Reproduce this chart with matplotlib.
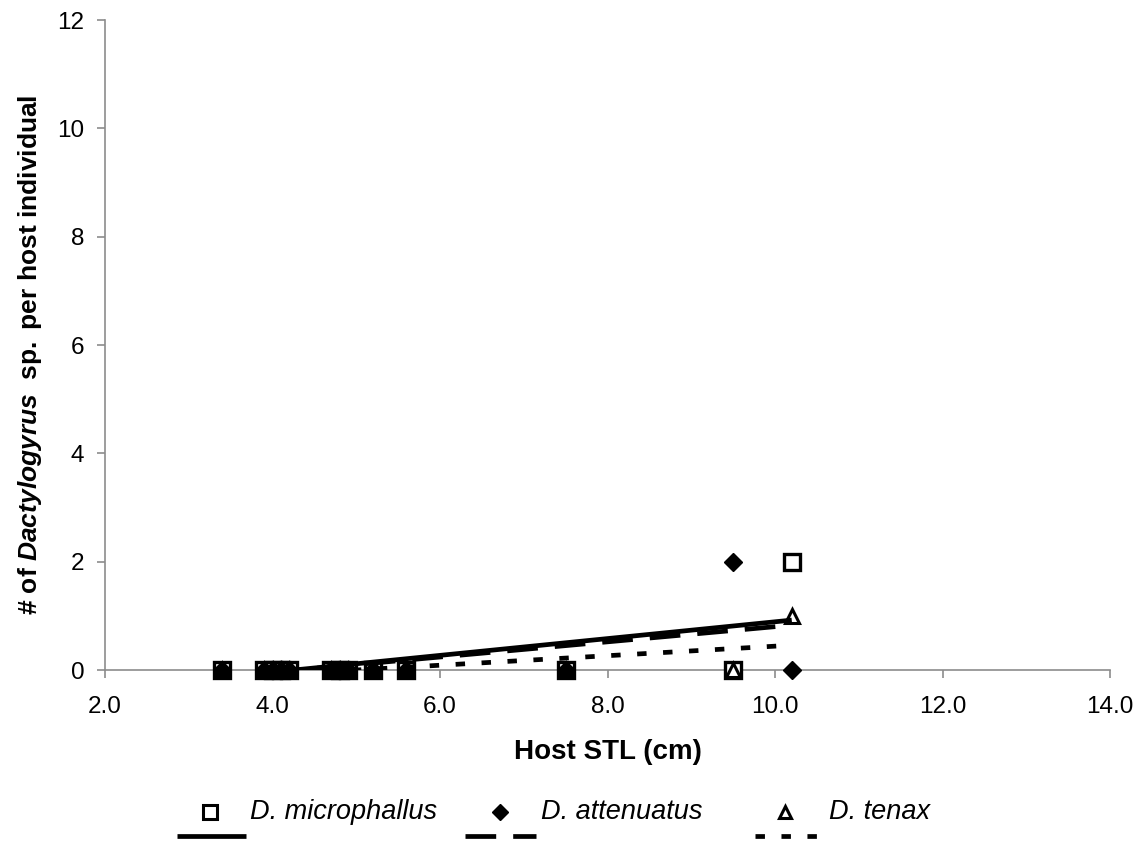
import numpy as np
import matplotlib
matplotlib.use('Agg')
import matplotlib.pyplot as plt
from matplotlib.lines import Line2D

plt.rcParams['font.family'] = ['Liberation Sans', 'DejaVu Sans']
plt.rcParams['mathtext.fontset'] = 'custom'
plt.rcParams['mathtext.rm'] = 'Liberation Sans'
plt.rcParams['mathtext.it'] = 'Liberation Sans:italic'
plt.rcParams['mathtext.bf'] = 'Liberation Sans:bold'
plt.rcParams['mathtext.bfit'] = 'Liberation Sans:bold:italic'

# ---- data ----
host_stl = [3.4, 3.9, 4.0, 4.1, 4.2, 4.7, 4.8, 4.9, 5.2, 5.6, 7.5, 9.5, 10.2]
d_microphallus = [0, 0, 0, 0, 0, 0, 0, 0, 0, 0, 0, 0, 2]
d_attenuatus = [0, 0, 0, 0, 0, 0, 0, 0, 0, 0, 0, 2, 0]
d_tenax = [0, 0, 0, 0, 0, 0, 0, 0, 0, 0, 0, 0, 1]
species = ['D. microphallus', 'D. attenuatus', 'D. tenax']
# linear trend lines (slope, intercept)
trend_slope = [0.155, 0.140, 0.088]
trend_intercept = [-0.66, -0.60, -0.44]
x_ticks = [2.0, 4.0, 6.0, 8.0, 10.0, 12.0, 14.0]
y_ticks = [0, 2, 4, 6, 8, 10, 12]

fig = plt.figure(figsize=(11.48, 8.46), dpi=100)
ax = fig.add_axes([105/1148, 1-670/846, (1110-105)/1148, (670-20)/846])

gray = '#8c8c8c'
# markers
ax.plot(host_stl, d_microphallus, linestyle='none', marker='s', ms=11,
        mfc='white', mec='black', mew=2.4, zorder=3, clip_on=False)
ax.plot(host_stl, d_tenax, linestyle='none', marker='^', ms=10.5,
        mfc='none', mec='black', mew=2.2, zorder=4, clip_on=False)
ax.plot(host_stl, d_attenuatus, linestyle='none', marker='D', ms=9.5,
        mfc='black', mec='black', mew=1, zorder=5, clip_on=False)

# trend lines
xs = np.array([min(host_stl), max(host_stl)])
styles = [dict(linestyle='-'), dict(dashes=(6.5, 3.6)), dict(dashes=(2.0, 3.5))]
for s, b, st in zip(trend_slope, trend_intercept, styles):
    ax.plot(xs, s * xs + b, color='black', lw=3.4, solid_capstyle='butt',
            dash_capstyle='butt', zorder=6, **st)

ax.set_xlim(2, 14)
ax.set_ylim(0, 12)
ax.set_xticks(x_ticks)
ax.set_xticklabels([f'{v:.1f}' for v in x_ticks])
ax.set_yticks(y_ticks)
ax.set_yticklabels([str(v) for v in y_ticks])
for sp in ['top', 'right']:
    ax.spines[sp].set_visible(False)
for sp in ['left', 'bottom']:
    ax.spines[sp].set_color(gray)
    ax.spines[sp].set_linewidth(1.2)
ax.tick_params(axis='both', direction='out', length=6, width=1.2, color=gray,
               labelsize=17.5)
ax.tick_params(axis='x', pad=13)
ax.tick_params(axis='y', pad=9)

fig.text(608/1148, 1-759/846, 'Host STL (cm)', fontsize=20, fontweight='bold',
         ha='center', va='baseline')
fig.text(30/1148, 1-355/846,
         r'$\mathbf{\#\ of\ }\mathbfit{Dactylogyrus}\mathbf{\ \ sp.\ per\ host\ individual}$',
         rotation=90, ha='center', va='center', fontsize=19)

# legend (manual, Excel-like)
row1 = 1 - 812/846
row2 = 1 - 836/846
mk = [dict(marker='s', mfc='white', mec='black', mew=2.2, ms=9.5),
      dict(marker='D', mfc='black', mec='black', mew=1, ms=8),
      dict(marker='^', mfc='white', mec='black', mew=2.2, ms=9)]
mk_x = [210, 500, 785]
txt_x = [250, 541, 829]
line_x = [(177, 246), (465, 536), (755, 818)]
for i in range(3):
    fig.add_artist(Line2D([mk_x[i]/1148], [row1], transform=fig.transFigure,
                          linestyle='none', **mk[i]))
    fig.text(txt_x[i]/1148, row1, species[i], style='italic', fontsize=19.5,
             ha='left', va='center')
    fig.add_artist(Line2D([line_x[i][0]/1148, line_x[i][1]/1148], [row2, row2],
                          transform=fig.transFigure, color='black', lw=3.4,
                          solid_capstyle='butt', dash_capstyle='butt', **styles[i]))

fig.savefig('out.png', dpi=100)
